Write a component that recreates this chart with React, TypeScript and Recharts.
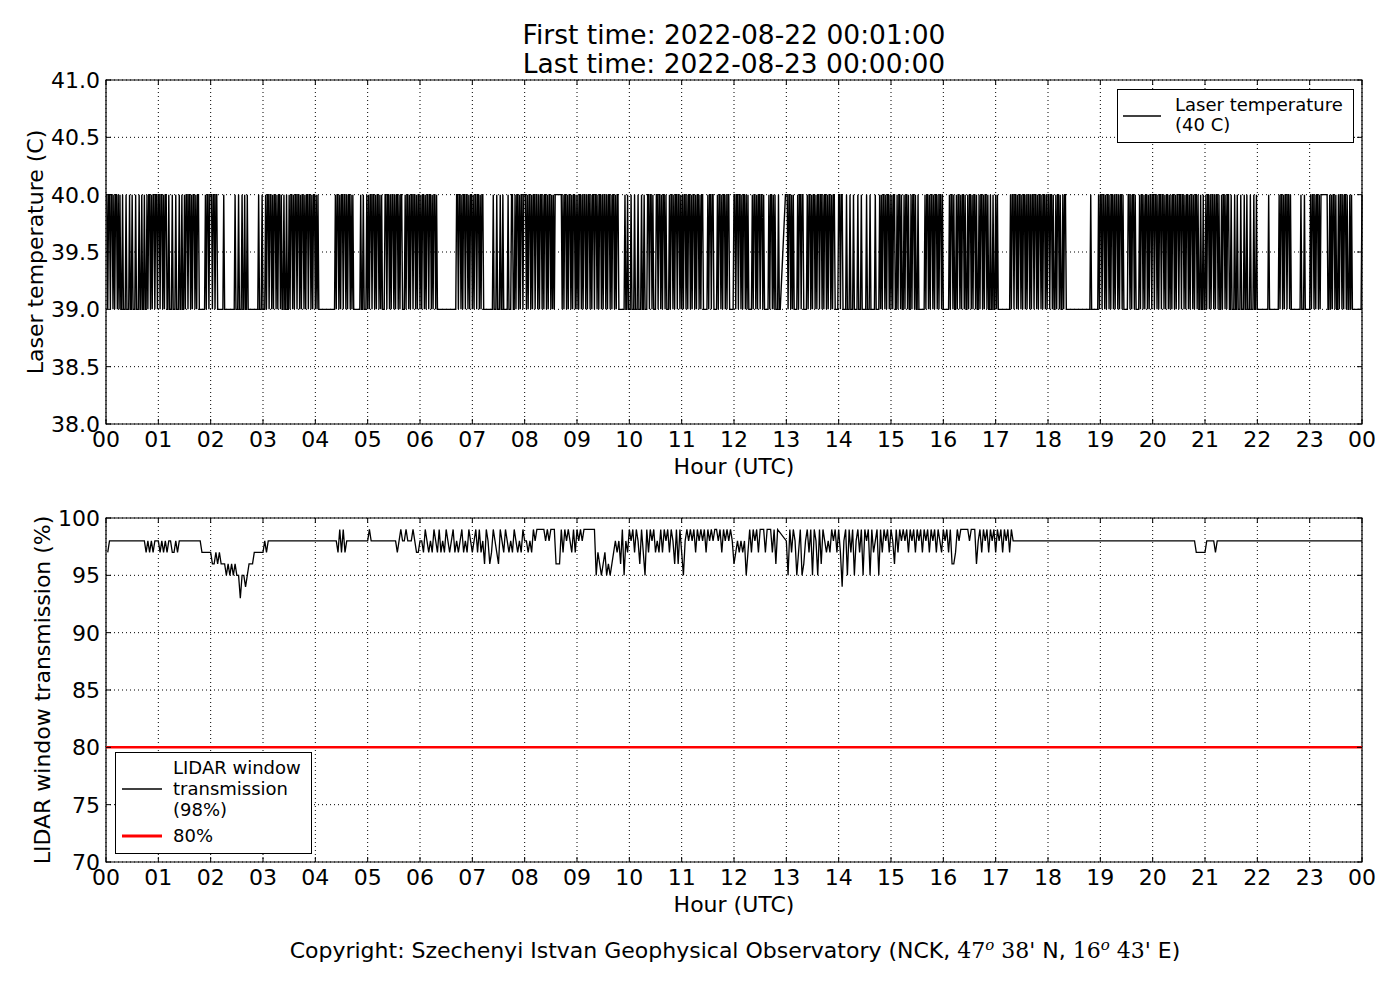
import React from 'react';
import {
  LineChart,
  Line,
  XAxis,
  YAxis,
  CartesianGrid,
  ReferenceLine,
  ReferenceArea,
  Label,
  Legend,
} from 'recharts';

// ---------------- data ----------------
const TITLE_FIRST = 'First time: 2022-08-22 00:01:00';
const TITLE_LAST = 'Last time: 2022-08-23 00:00:00';

const HOUR_TICKS = [0, 60, 120, 180, 240, 300, 360, 420, 480, 540, 600, 660, 720, 780, 840, 900, 960, 1020, 1080, 1140, 1200, 1260, 1320, 1380, 1440];
const HOUR_LABELS = ['00', '01', '02', '03', '04', '05', '06', '07', '08', '09', '10', '11', '12', '13', '14', '15', '16', '17', '18', '19', '20', '21', '22', '23', '00'];
const TEMP_TICKS = [38, 38.5, 39, 39.5, 40, 40.5, 41];
const WINDOW_TICKS = [70, 75, 80, 85, 90, 95, 100];
const THRESHOLD = 80;

// Laser temperature, one character per minute of each hour: '1' = 40 C, '0' = 39 C, 'x' = no data
const TEMP_HOURS = [
  '1011011010110101' + '001000100010010001000100100100' + '10110101101101',
  '1011010110' + '0100010001000100100' + '10110110101101011' + '0000000' + '1011011',
  '1011011' + '00000001000000000000100' + '0100010010010' + '0000000000' + '0100010',
  '0010' + '11011010110101101' + '00100100' + '1011010110' + '1101011010' + '1101101011' + '0',
  '101' + '0000000000000000000' + '101101011011010110101' + '0000000' + '0100100010',
  '1011011010' + '1101010001' + '1011010110' + '1011010110' + '0010110101' + '1011010110',
  '10110101101101011010' + '00000000000000000000' + '01101101011011010110',
  '1011011010110' + '000000000' + '0100010001001000' + '0010001100' + '101101011011',
  '1010110101' + '1011010110' + '1011010110' + '1010' + '11111111' + '010110101101011010',
  '1011010110' + '1011010110' + '1101011010' + '1101011010' + '11010110' + '000000' + '100100',
  '010001000100010010001' + '1011010' + '00' + '1101101011010' + '00' + '101101011011010',
  '1011010110101101011010110' + '0000' + '1011011' + '0000' + '101101011010110' + '00001',
  '1011011010110101' + '0000' + '101101011011010' + '0000' + '10110101' + '00010' + '0' + 'xxxxx' + '11',
  '10110101' + '0000' + '1011011' + '0000' + '1011010110' + '1011011010' + '1101011010' + '11' + '00001',
  '10110' + '0001000100010000100010000010001000001000010' + '101101011010',
  '1011001011' + '0100101101' + '0010110100' + '1' + '0000000' + '1011010110' + '1011010110' + '10',
  '000000' + '1011010010' + '1101011010' + '0101101011' + '0100101101' + '011010010' + '01001',
  '0100000000000000' + '1011011010' + '1101011010' + '1101011011' + '0101101011' + '0101',
  '101101001011010010110' + '000000000000000000000000000' + '1' + '00000000' + '101',
  '101101011010110101101011010' + '0000' + '110101101' + '0000' + '1011010110101101',
  '1011010110' + '1101011010' + '1011010110' + '1101101011' + '0101101011' + '01' + '00100100',
  '101101011010110100101101011' + '0010001001' + '0001000100' + '1000100010' + '010',
  '000000000000100000000000' + '101101011011010' + '00000000' + '001000100' + '0000',
  '10110101101011' + '111111' + '0010' + '101101001011010110100101' + '00000000000' + '1',
];

// LIDAR window transmission, one character per two minutes of each hour: digit d = (90 + d) %, 'x' = no data
const WINDOW_HOURS = [
  '7' + '888888888888888888888' + '787878' + '88',
  '78787' + '88' + '77' + '8' + '7' + '8' + '888888888888' + '777777',
  '667676' + '66' + '5656' + '5655' + '3' + '5' + '545' + '666' + '77777' + '7',
  '878' + '888888888888888888888888888',
  '888888888888' + '79797' + '8888888888888',
  '9' + '888888888888888' + '7' + '898' + '8' + '9' + '888' + '9' + '87' + '78',
  '8798787987' + '9787987897' + '8789787987',
  '8979786986' + '7987698798' + '7879878798',
  '878798999' + '9989899' + '9' + '666' + '979898' + '7979',
  '8989' + '999999' + '5' + '76567' + '5656' + '7' + '878' + '6' + '9' + '5' + '87' + '9',
  '8979869759' + '7989787979' + '8979869697',
  '5898989798' + '9897989899' + '8979898986',
  '7878785797' + '9897999799' + '97969' + 'xxxx' + '8',
  '5979857956' + '8979598596' + '9878798979',
  '7489597958' + '9795989597' + '8959798979',
  '8697989897' + '9897989798' + '9798979879',
  '8979667989' + '9999899968' + '9798979897',
  '9897989798' + '88888888888888888888',
  '888888888888888888888888888888',
  '888888888888888888888888888888',
  '888888888888888888888888' + '777777',
  '88888' + '7' + '888888888888888888888888',
  '888888888888888888888888888888',
  '888888888888888888888888888888',
];

type Pt = { t: number; v: number | null };

function decode(rows: string[], map: (c: string) => number | null): Pt[] {
  const out: Pt[] = [];
  rows.forEach((row, h) => {
    const n = row.length;
    for (let i = 0; i < n; i++) {
      out.push({ t: h * 60 + ((i + 1) * 60) / n, v: map(row[i]) });
    }
  });
  return out;
}

const tempData = decode(TEMP_HOURS, (c) => (c === '1' ? 40 : c === '0' ? 39 : null));
const windowData = decode(WINDOW_HOURS, (c) => (c === 'x' ? null : 90 + Number(c)));

// ---------------- styling ----------------
const FONT = '"DejaVu Sans", sans-serif';
const SERIF = '"DejaVu Serif", serif';
const TICK_FS = 22;
const PLOT_H = 344;
const PLOT_W = 1256;

const renderXTick = (props: any) => {
  const { x, y, payload } = props;
  const idx = HOUR_TICKS.indexOf(payload.value);
  const axisY = y - 7;
  return (
    <g>
      <line x1={x} x2={x} y1={axisY} y2={axisY - 5} stroke="#000" />
      <line x1={x} x2={x} y1={axisY - PLOT_H} y2={axisY - PLOT_H + 5} stroke="#000" />
      <text x={x} y={y} dy="0.74em" textAnchor="middle" fontSize={TICK_FS} fontFamily={FONT} fill="#000">
        {HOUR_LABELS[idx]}
      </text>
    </g>
  );
};

const makeYTick = (fmt: (v: number) => string) => (props: any) => {
  const { x, y, payload } = props;
  const axisX = x + 6;
  return (
    <g>
      <line x1={axisX} x2={axisX + 5} y1={y} y2={y} stroke="#000" />
      <line x1={axisX + PLOT_W} x2={axisX + PLOT_W - 5} y1={y} y2={y} stroke="#000" />
      <text x={x} y={y} dy="0.36em" textAnchor="end" fontSize={TICK_FS} fontFamily={FONT} fill="#000">
        {fmt(payload.value)}
      </text>
    </g>
  );
};

const renderTempTick = makeYTick((v) => v.toFixed(1));
const renderWindowTick = makeYTick((v) => String(v));

const yLabel = (text: string, dx: number) => (props: any) => {
  const vb = props.viewBox;
  const cx = vb.x + dx;
  const cy = vb.y + vb.height / 2;
  return (
    <text
      x={cx}
      y={cy}
      transform={`rotate(-90, ${cx}, ${cy})`}
      textAnchor="middle"
      dominantBaseline="central"
      fontSize={TICK_FS}
      fontFamily={FONT}
      fill="#000"
    >
      {text}
    </text>
  );
};

const xLabel = (props: any) => {
  const vb = props.viewBox;
  return (
    <text
      x={vb.x + vb.width / 2}
      y={vb.y + 42}
      textAnchor="middle"
      dominantBaseline="central"
      fontSize={TICK_FS}
      fontFamily={FONT}
      fill="#000"
    >
      Hour (UTC)
    </text>
  );
};

const TempLegend = () => (
  <div
    style={{
      position: 'relative',
      width: 237,
      height: 54,
      boxSizing: 'border-box',
      border: '1px solid #000',
      background: '#fff',
      fontFamily: FONT,
      fontSize: 18,
      lineHeight: '20px',
      color: '#000',
    }}
  >
    <svg width={38} height={4} style={{ position: 'absolute', left: 5, top: 24 }}>
      <line x1={0} x2={38} y1={2} y2={2} stroke="#000" strokeWidth={1.3} />
    </svg>
    <div style={{ position: 'absolute', left: 57, top: 5, whiteSpace: 'nowrap' }}>
      Laser temperature
      <br />
      (40 C)
    </div>
  </div>
);

const WindowLegend = () => (
  <div
    style={{
      position: 'relative',
      width: 197,
      height: 102,
      boxSizing: 'border-box',
      border: '1px solid #000',
      background: '#fff',
      fontFamily: FONT,
      fontSize: 18,
      lineHeight: '21px',
      color: '#000',
    }}
  >
    <svg width={40} height={4} style={{ position: 'absolute', left: 6, top: 34 }}>
      <line x1={0} x2={40} y1={2} y2={2} stroke="#000" strokeWidth={1.3} />
    </svg>
    <div style={{ position: 'absolute', left: 57, top: 4, whiteSpace: 'nowrap' }}>
      LIDAR window
      <br />
      transmission
      <br />
      (98%)
    </div>
    <svg width={40} height={4} style={{ position: 'absolute', left: 6, top: 81 }}>
      <line x1={0} x2={40} y1={2} y2={2} stroke="#ff0000" strokeWidth={3} />
    </svg>
    <div style={{ position: 'absolute', left: 57, top: 72, whiteSpace: 'nowrap' }}>80%</div>
  </div>
);

const GRID = { stroke: '#000', strokeDasharray: '1 3', strokeWidth: 1 };

export default function App() {
  return (
    <div style={{ position: 'absolute', left: 0, top: 0, width: 1400, height: 1000, background: '#fff' }}>
      <div
        style={{
          position: 'absolute',
          left: 106,
          width: 1256,
          top: 20,
          textAlign: 'center',
          fontFamily: FONT,
          fontSize: 26.5,
          lineHeight: '29px',
          color: '#000',
        }}
      >
        {TITLE_FIRST}
        <br />
        {TITLE_LAST}
      </div>

      <div style={{ position: 'absolute', left: 0, top: 0 }}>
        <LineChart width={1400} height={480} data={tempData} margin={{ top: 80, right: 38, bottom: 0, left: 0 }}>
          <CartesianGrid {...GRID} />
          <XAxis
            dataKey="t"
            type="number"
            domain={[0, 1440]}
            ticks={HOUR_TICKS}
            interval={0}
            height={56}
            tickSize={0}
            tickMargin={7}
            tickLine={false}
            axisLine={false}
            tick={renderXTick}
          >
            <Label content={xLabel} />
          </XAxis>
          <YAxis
            type="number"
            domain={[38, 41]}
            ticks={TEMP_TICKS}
            interval={0}
            width={106}
            tickSize={0}
            tickMargin={6}
            tickLine={false}
            axisLine={false}
            tick={renderTempTick}
          >
            <Label content={yLabel('Laser temperature (C)', 35)} />
          </YAxis>
          <Line
            type="linear"
            dataKey="v"
            stroke="#000"
            strokeWidth={1.4}
            dot={false}
            connectNulls
            isAnimationActive={false}
          />
          <ReferenceArea x1={0} x2={1440} y1={38} y2={41} fill="none" stroke="#000" strokeWidth={1.2} ifOverflow="visible" />
          <Legend
            layout="vertical"
            align="center"
            verticalAlign="middle"
            content={TempLegend}
            wrapperStyle={{ left: 1117, top: 89, width: 237, height: 54 }}
          />
        </LineChart>
      </div>

      <div style={{ position: 'absolute', left: 0, top: 480 }}>
        <LineChart width={1400} height={438} data={windowData} margin={{ top: 38, right: 38, bottom: 0, left: 0 }}>
          <CartesianGrid {...GRID} />
          <XAxis
            dataKey="t"
            type="number"
            domain={[0, 1440]}
            ticks={HOUR_TICKS}
            interval={0}
            height={56}
            tickSize={0}
            tickMargin={7}
            tickLine={false}
            axisLine={false}
            tick={renderXTick}
          >
            <Label content={xLabel} />
          </XAxis>
          <YAxis
            type="number"
            domain={[70, 100]}
            ticks={WINDOW_TICKS}
            interval={0}
            width={106}
            tickSize={0}
            tickMargin={6}
            tickLine={false}
            axisLine={false}
            tick={renderWindowTick}
          >
            <Label content={yLabel('LIDAR window transmission (%)', 42)} />
          </YAxis>
          <ReferenceLine y={THRESHOLD} stroke="#ff0000" strokeWidth={2.5} />
          <Line
            type="linear"
            dataKey="v"
            stroke="#000"
            strokeWidth={1.3}
            dot={false}
            connectNulls
            isAnimationActive={false}
          />
          <ReferenceArea x1={0} x2={1440} y1={70} y2={100} fill="none" stroke="#000" strokeWidth={1.2} ifOverflow="visible" />
          <Legend
            layout="vertical"
            align="center"
            verticalAlign="middle"
            content={WindowLegend}
            wrapperStyle={{ left: 115, top: 272, width: 197, height: 102 }}
          />
        </LineChart>
      </div>

      <div
        style={{
          position: 'absolute',
          left: 0,
          width: 1470,
          top: 931,
          textAlign: 'center',
          fontFamily: FONT,
          fontSize: 22,
          lineHeight: '28px',
          color: '#000',
          whiteSpace: 'nowrap',
        }}
      >
        Copyright: Szechenyi Istvan Geophysical Observatory (NCK,{' '}
        <span style={{ fontFamily: SERIF }}>
          47<sup style={{ fontStyle: 'italic', fontSize: 15 }}>o</sup>
        </span>
        {'  '}
        <span style={{ fontFamily: SERIF }}>38'</span> N,{' '}
        <span style={{ fontFamily: SERIF }}>
          16<sup style={{ fontStyle: 'italic', fontSize: 15 }}>o</sup>
        </span>
        {'  '}
        <span style={{ fontFamily: SERIF }}>43'</span> E)
      </div>
    </div>
  );
}
